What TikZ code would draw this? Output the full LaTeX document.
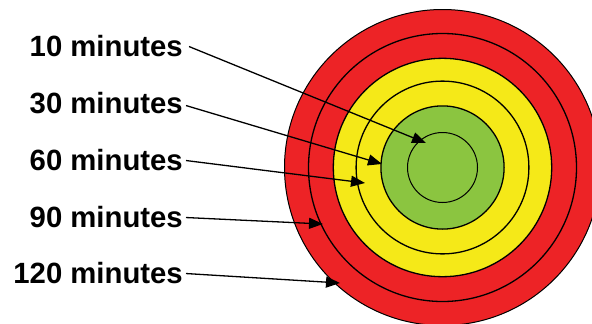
\documentclass[tikz,border=0pt]{standalone}
\usepackage{fontspec}
\setmainfont{Liberation Sans}
\usetikzlibrary{arrows.meta}
\definecolor{ringred}{RGB}{237,35,38}
\definecolor{ringyellow}{RGB}{245,233,24}
\definecolor{ringgreen}{RGB}{139,197,64}
\tikzset{
  lbl/.style={anchor=base east, inner sep=0pt, font=\fontsize{29.3}{32}\selectfont\bfseries},
  ring/.style={draw=black, line width=1.3pt},
  arr/.style={draw=black, line width=1.3pt, -{Triangle[length=14pt,width=11pt]}}
}
\begin{document}
\begin{tikzpicture}[x=1pt,y=-1pt]
\useasboundingbox (0,0) rectangle (592,324);
\clip (0,0) rectangle (592,324);
\coordinate (c) at (442.5,167.5);
\fill[ringred] (c) circle[radius=158pt];
\draw[black, line width=1pt] (c) circle[radius=158pt];
\draw[ring] (c) circle[radius=134pt];
\fill[ringyellow] (c) circle[radius=109.2pt];
\draw[ring] (c) circle[radius=109.2pt];
\draw[ring] (c) circle[radius=86.4pt];
\fill[ringgreen] (c) circle[radius=61.6pt];
\draw[ring] (c) circle[radius=61.6pt];
\draw[black, line width=1pt] (c) circle[radius=35pt];
\node[lbl] (t1) at (183,56) {10 minutes};
\node[lbl] (t2) at (183,113) {30 minutes};
\node[lbl] (t3) at (183,170) {60 minutes};
\node[lbl] (t4) at (183,227) {90 minutes};
\node[lbl] (t5) at (183,283) {120 minutes};
\coordinate (e1) at (426,143);
\coordinate (e2) at (382,164);
\coordinate (e3) at (365,183);
\coordinate (e4) at (323,224);
\coordinate (e5) at (340,283);
\draw[arr] ([xshift=6pt,yshift=-1pt]t1.east) -- (e1);
\draw[arr] ([xshift=3pt,yshift=-3pt]t2.east) -- (e2);
\draw[arr] ([xshift=3pt,yshift=-1pt]t3.east) -- (e3);
\draw[arr] ([xshift=3pt,yshift=-1pt]t4.east) -- (e4);
\draw[arr] ([xshift=3pt,yshift=-1pt]t5.east) -- (e5);
\end{tikzpicture}
\end{document}
